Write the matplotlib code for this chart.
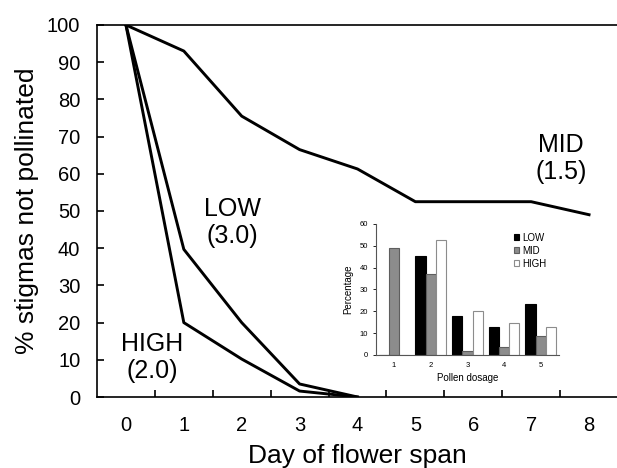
import numpy as np
import matplotlib.pyplot as plt

plt.rcParams['font.family'] = ['Liberation Sans', 'DejaVu Sans']

days = [0, 1, 2, 3, 4, 5, 6, 7, 8]
mid_pct = [100, 93, 75.5, 66.5, 61.3, 52.5, 52.5, 52.5, 49]
low_days = [0, 1, 2, 3, 4]
low_pct = [100, 39.7, 20, 3.5, 0]
high_days = [0, 1, 2, 3, 4]
high_pct = [100, 20, 10.2, 1.6, 0]

dosage = [1, 2, 3, 4, 5]
inset_low = [0, 45.5, 18, 12.7, 23.5]
inset_mid = [49.2, 36.9, 1.8, 3.5, 8.9]
inset_high = [0, 52.7, 20, 14.5, 12.7]

fig = plt.figure(figsize=(6.17, 4.68), dpi=100)
ax = fig.add_axes([0.1572, 0.1517, 0.8444, 0.7949])

ax.plot(days, mid_pct, color='black', lw=2.1)
ax.plot(low_days, low_pct, color='black', lw=2.1)
ax.plot(high_days, high_pct, color='black', lw=2.1)

ax.set_xlim(-0.5, 8.5)
ax.set_ylim(0, 100)
ax.set_xticks(np.arange(0.5, 8.5, 1))
ax.set_xticklabels([])
ax.set_xticks(days, minor=True)
ax.set_xticklabels([str(d) for d in days], minor=True, fontsize=14.5)
ax.tick_params(axis='x', which='major', direction='in', length=5, width=1.2)
ax.tick_params(axis='x', which='minor', length=0, pad=14)
ax.set_yticks(np.arange(0, 101, 10))
ax.tick_params(axis='y', direction='in', length=5, width=1.2, labelsize=14.5, pad=12)
for s in ax.spines.values():
    s.set_linewidth(1.2)
ax.spines['right'].set_visible(False)

ax.set_xlabel('Day of flower span', fontsize=19, labelpad=6)
ax.set_ylabel('% stigmas not pollinated', fontsize=19, labelpad=6)

ax.text(1.84, 47, 'LOW\n(3.0)', fontsize=18, ha='center', va='center', linespacing=1.15)
ax.text(0.46, 10.7, 'HIGH\n(2.0)', fontsize=18, ha='center', va='center', linespacing=1.15)
ax.text(7.52, 64, 'MID\n(1.5)', fontsize=18, ha='center', va='center', linespacing=1.15)

# inset bar chart
ins = fig.add_axes([0.609, 0.2415, 0.297, 0.28])
x = np.array(dosage)
w = 0.28
ins.bar(x - w, inset_low, w, color='black', edgecolor='black', lw=0.8, label='LOW')
ins.bar(x, inset_mid, w, color='#8c8c8c', edgecolor='#5e5e5e', lw=0.8, label='MID')
ins.bar(x + w, inset_high, w, color='white', edgecolor='#8c8c8c', lw=0.8, label='HIGH')
ins.set_xlim(0.5, 5.5)
ins.set_ylim(0, 60)
ins.set_yticks(np.arange(0, 61, 10))
ins.set_xticks(dosage)
ins.tick_params(axis='both', labelsize=5.5, length=2, width=0.6)
ins.tick_params(axis='x', length=0, pad=5)
ins.spines['top'].set_visible(False)
ins.spines['right'].set_visible(False)
ins.spines['left'].set_color('#555555')
ins.spines['bottom'].set_color('#555555')
ins.set_xlabel('Pollen dosage', fontsize=7, labelpad=3)
ins.set_ylabel('Percentage', fontsize=7, labelpad=5)
ins.legend(loc='upper right', bbox_to_anchor=(0.98, 1.0), frameon=False, fontsize=7,
           handlelength=0.6, handleheight=0.6, handletextpad=0.3, labelspacing=0.3)

plt.savefig('out.png', dpi=100)
